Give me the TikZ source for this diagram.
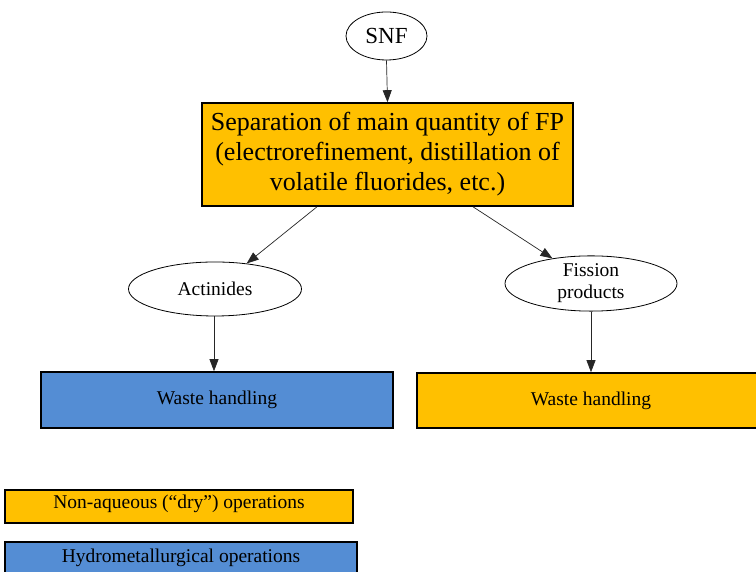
\documentclass[tikz,border=0pt]{standalone}
\usepackage{fontspec}
\setmainfont{Liberation Serif}
\usetikzlibrary{shapes.geometric,arrows.meta}
\definecolor{ylw}{HTML}{FFC000}
\definecolor{blu}{HTML}{548DD4}
\tikzset{
  oval/.style={ellipse, draw=black, line width=0.8pt, fill=white, inner sep=0pt, font=\fontsize{19.5}{22}\selectfont, align=center},
  ybox/.style={rectangle, draw=black, line width=1.6pt, fill=ylw, inner sep=0pt, font=\fontsize{19.5}{22}\selectfont, align=center},
  bbox/.style={rectangle, draw=black, line width=1.6pt, fill=blu, inner sep=0pt, font=\fontsize{19.5}{22}\selectfont, align=center},
  arr/.style={draw=black!85, line width=0.7pt, -{Triangle[length=12pt,width=9pt]}},
}
\begin{document}
\begin{tikzpicture}[x=1pt,y=1pt]
\useasboundingbox (0,0) rectangle (756,572);
\clip (0,0) rectangle (756,572);
\fill[white] (0,0) rectangle (756,572);
\node[oval, minimum width=81pt, minimum height=48pt, font=\fontsize{23}{28}\selectfont] (snf) at (386.5,536) {SNF};
\node[ybox, minimum width=371pt, minimum height=103pt, font=\fontsize{26}{30}\selectfont] (main) at (387.5,417.5)
  {Separation of main quantity of FP\\(electrorefinement, distillation of\\volatile fluorides, etc.)};
\node[oval, minimum width=173pt, minimum height=54pt] (act) at (215,283) {Actinides};
\node[oval, minimum width=172pt, minimum height=55pt] (fp) at (591,288.5) {Fission\\products};
\node[bbox, minimum width=352pt, minimum height=56pt] (wl) at (217,172) {Waste handling};
\node[ybox, minimum width=348pt, minimum height=55pt] (wr) at (591,171.5) {Waste handling};
\node[ybox, minimum width=348pt, minimum height=33pt, text height=13pt, text depth=8pt] (dry) at (179,65.5) {Non-aqueous (“dry”) operations};
\node[bbox, minimum width=352pt, minimum height=38pt] (hyd) at (181,11) {};
\node[font=\fontsize{19.5}{22}\selectfont] (hydt) at (181,14.5) {Hydrometallurgical operations};
\draw[arr] (snf.south) -- (main.north);
\draw[arr] ([xshift=-70.5pt]main.south) -- (act);
\draw[arr] ([xshift=85.5pt]main.south) -- (fp);
\draw[arr] ([xshift=-1pt]act.south) -- ([xshift=-1pt]act.south |- wl.north);
\draw[arr] (fp.south) -- (fp.south |- wr.north);
\end{tikzpicture}
\end{document}
